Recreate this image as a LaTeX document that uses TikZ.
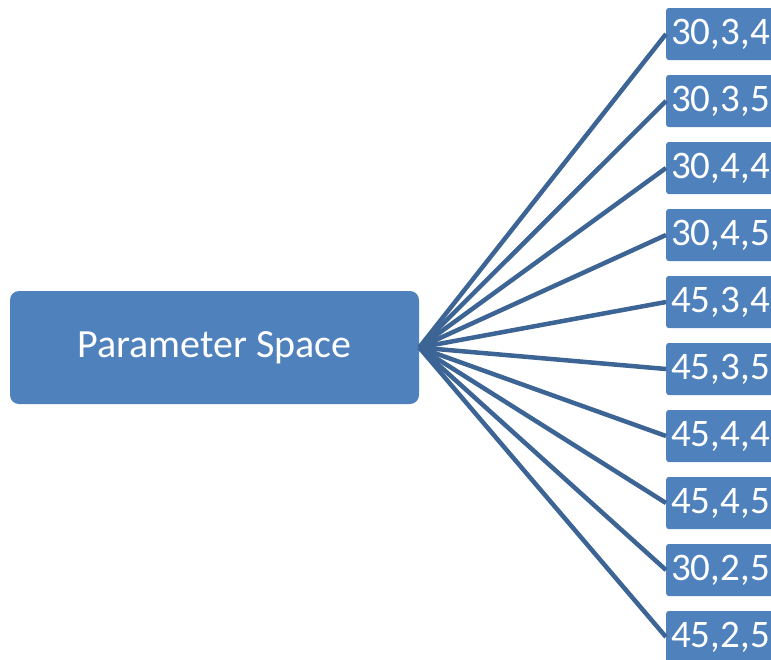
\documentclass[tikz,border=0pt]{standalone}
\usepackage{fontspec}
\setmainfont{Carlito}
\definecolor{boxblue}{HTML}{4F81BD}
\definecolor{linkblue}{HTML}{3C6494}
\begin{document}
\begin{tikzpicture}[x=1pt,y=-1pt,
  rootbox/.style={fill=boxblue, rounded corners=9pt, text=white,
    minimum width=409pt, minimum height=113pt, inner sep=0pt,
    font=\fontsize{40}{46}\selectfont},
  leafbox/.style={fill=boxblue, rounded corners=2.5pt, text=white, anchor=west,
    minimum height=52pt, text width=120pt, align=left, inner xsep=5pt, inner ysep=0pt,
    font=\fontsize{39}{45}\selectfont},
  link/.style={draw=linkblue, line width=4.5pt}]
\useasboundingbox (0,0) rectangle (771,659);
\clip (0,0) rectangle (771,659);
\node[rootbox] (root) at (214.5,347.5) {Parameter Space};
\foreach \lab [count=\i from 0] in {{30,3,4},{30,3,5},{30,4,4},{30,4,5},{45,3,4},{45,3,5},{45,4,4},{45,4,5},{30,2,5},{45,2,5}}{
  \node[leafbox] (leaf\i) at (666, 34+67*\i) {\lab};
  \draw[link] (root.east) -- (leaf\i.west);
}
\end{tikzpicture}
\end{document}
